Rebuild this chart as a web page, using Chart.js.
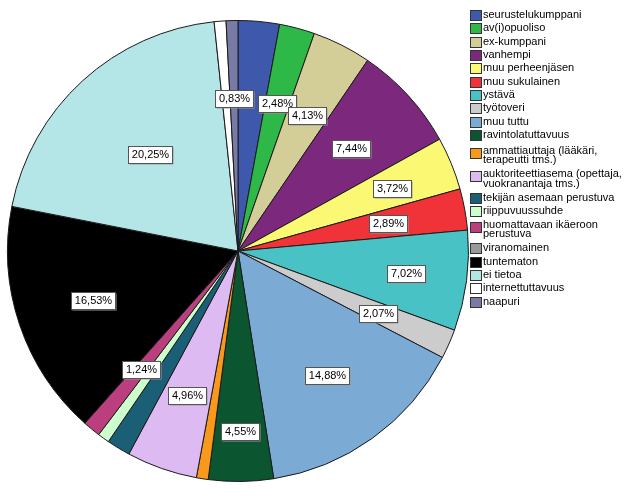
<!DOCTYPE html>
<html>
<head>
<meta charset="utf-8">
<script src="https://cdn.jsdelivr.net/npm/chart.js@4/dist/chart.umd.min.js"></script>
<style>
  body { margin: 0; background: #fff; }
</style>
</head>
<body>
<canvas id="myChart" width="629" height="504"></canvas>
<script>
// luokat (legendan järjestys = viipaleiden järjestys myötäpäivään klo 12:sta)
const categories = [
  "seurustelukumppani",
  "av(i)opuoliso",
  "ex-kumppani",
  "vanhempi",
  "muu perheenjäsen",
  "muu sukulainen",
  "ystävä",
  "työtoveri",
  "muu tuttu",
  "ravintolatuttavuus",
  "ammattiauttaja (lääkäri, terapeutti tms.)",
  "auktoriteettiasema (opettaja, vuokranantaja tms.)",
  "tekijän asemaan perustuva",
  "riippuvuussuhde",
  "huomattavaan ikäeroon perustuva",
  "viranomainen",
  "tuntematon",
  "ei tietoa",
  "internettuttavuus",
  "naapuri"
];

// lukumäärät (N = 242)
const counts = [7, 6, 10, 18, 9, 7, 17, 5, 36, 11, 2, 12, 4, 2, 3, 0, 40, 49, 2, 2];

const colors = [
  "#3E58AC", "#2EB848", "#D3CE97", "#7C287D", "#FBF873",
  "#EF3338", "#48C2C5", "#CCCCCC", "#7BAAD5", "#0B5630",
  "#F8981D", "#DDBAF1", "#1A5F76", "#CCFFCC", "#BB3F7F",
  "#999999", "#000000", "#B4E5E7", "#FFFFFF", "#7A7AA7"
];

// prosenttilaput joita ei näytetä kuvassa
const hiddenLabels = [0, 10, 12, 13, 15, 18];
// lapun etäisyys keskipisteestä (osuus säteestä), oletus 0.663
const labelRadius = { 4: 0.72, 6: 0.737, 9: 0.78, 17: 0.567 };

const FONT = '11px "Liberation Sans", Arial, sans-serif';

const total = counts.reduce((a, b) => a + b, 0);

const pctLabels = {
  id: "pctLabels",
  afterDatasetsDraw(chart) {
    const ctx = chart.ctx;
    const arcs = chart.getDatasetMeta(0).data;
    ctx.save();
    ctx.font = FONT;
    ctx.textAlign = "center";
    ctx.textBaseline = "middle";
    arcs.forEach((arc, i) => {
      if (hiddenLabels.includes(i) || counts[i] === 0) return;
      const mid = (arc.startAngle + arc.endAngle) / 2;
      const r = arc.outerRadius * (labelRadius[i] || 0.663);
      const x = Math.round(arc.x + Math.cos(mid) * r);
      const y = Math.round(arc.y + Math.sin(mid) * r);
      const txt = ((counts[i] / total) * 100).toFixed(2).replace(".", ",") + "%";
      const w = Math.ceil(ctx.measureText(txt).width) + 6;
      const h = 17;
      const bx = Math.round(x - w / 2) + 0.5;
      const by = Math.round(y - h / 2) + 0.5;
      ctx.fillStyle = "#9a9a9a";
      ctx.fillRect(bx + 1, by + 1, w, h);
      ctx.fillStyle = "#ffffff";
      ctx.fillRect(bx, by, w, h);
      ctx.strokeStyle = "#555555";
      ctx.lineWidth = 1;
      ctx.strokeRect(bx, by, w, h);
      ctx.fillStyle = "#000000";
      ctx.fillText(txt, x + 0.5, y + 1);
    });
    ctx.restore();
  }
};

// oma legenda oikealle, rivitys pitkille nimille
const sideLegend = {
  id: "sideLegend",
  afterDraw(chart) {
    const ctx = chart.ctx;
    ctx.save();
    ctx.font = FONT;
    ctx.textBaseline = "middle";
    const maxW = 142;
    let y = 15;
    categories.forEach((name, i) => {
      if (i === 10) y += 2.5;
      const words = name.split(" ");
      const lines = [];
      let cur = "";
      words.forEach((wd) => {
        const test = cur ? cur + " " + wd : wd;
        if (ctx.measureText(test).width > maxW && cur) {
          lines.push(cur);
          cur = wd;
        } else {
          cur = test;
        }
      });
      lines.push(cur);

      const sy = Math.round(y - 5 + (lines.length > 1 ? 2 : 0)) + 0.5;
      ctx.fillStyle = colors[i];
      ctx.fillRect(470.5, sy, 11, 10);
      ctx.strokeStyle = "#333333";
      ctx.lineWidth = 1;
      ctx.strokeRect(470.5, sy, 11, 10);

      ctx.fillStyle = "#000000";
      lines.forEach((ln, k) => {
        ctx.fillText(ln, 483, y + k * 9.3);
      });
      y += 13.33 + (lines.length - 1) * 10.3;
    });
    ctx.restore();
  }
};

const ctx = document.getElementById("myChart").getContext("2d");

new Chart(ctx, {
  type: "pie",
  data: {
    labels: categories,
    datasets: [
      {
        data: counts,
        backgroundColor: colors,
        borderColor: "#1a1a1a",
        borderWidth: 1
      }
    ]
  },
  options: {
    responsive: false,
    animation: false,
    devicePixelRatio: 1,
    layout: { padding: { left: 7, right: 160, top: 20, bottom: 22 } },
    plugins: {
      legend: { display: false },
      tooltip: { enabled: false }
    }
  },
  plugins: [pctLabels, sideLegend]
});
</script>
</body>
</html>
